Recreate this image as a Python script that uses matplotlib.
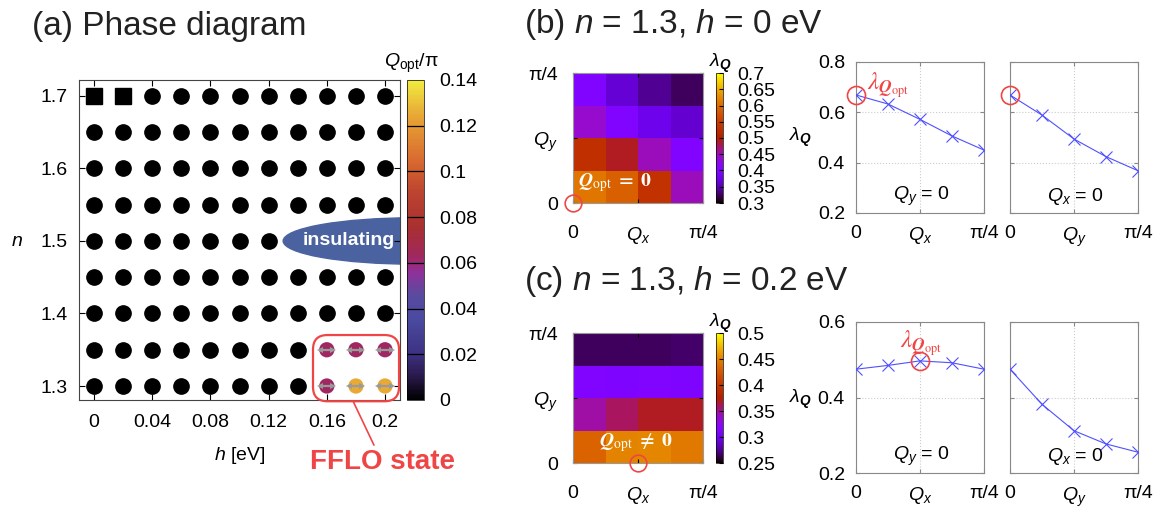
import matplotlib as mpl
mpl.use('Agg')

import matplotlib.pyplot as plt
import numpy as np
from matplotlib.colors import LinearSegmentedColormap, Normalize
from matplotlib.cm import ScalarMappable
from matplotlib.patches import Ellipse, FancyBboxPatch
import matplotlib.ticker as mticker

plt.rcParams['font.family'] = ['Liberation Sans', 'DejaVu Sans']
plt.rcParams['mathtext.fontset'] = 'custom'
plt.rcParams['mathtext.rm'] = 'Liberation Sans'
plt.rcParams['mathtext.it'] = 'Liberation Sans:italic'
plt.rcParams['mathtext.bf'] = 'Liberation Sans:bold'
plt.rcParams['mathtext.bfit'] = 'Liberation Sans:italic:bold'

# ---- (a) phase diagram data
h_grid = [0.0, 0.02, 0.04, 0.06, 0.08, 0.10, 0.12, 0.14, 0.16, 0.18, 0.20]
n_grid = [1.30, 1.35, 1.40, 1.45, 1.50, 1.55, 1.60, 1.65, 1.70]
square_h = [0.0, 0.02]
square_n = [1.70, 1.70]
insul_h = [0.14, 0.16, 0.18, 0.20]
insul_n = [1.50, 1.50, 1.50, 1.50]
fflo_h = [0.16, 0.18, 0.20, 0.16, 0.18, 0.20]
fflo_n = [1.35, 1.35, 1.35, 1.30, 1.30, 1.30]
fflo_q = [0.0625, 0.0625, 0.0625, 0.0625, 0.125, 0.125]   # Q_opt / pi

# ---- (b), (c) lambda_Q maps (rows: Qy from 0 up, cols: Qx from 0)
q_edges = [0, 0.0625, 0.125, 0.1875, 0.25]
lam_b = [[0.608, 0.588, 0.532, 0.448],
         [0.528, 0.492, 0.448, 0.400],
         [0.440, 0.400, 0.376, 0.362],
         [0.400, 0.364, 0.340, 0.324]]
lam_c = [[0.4325, 0.450, 0.452, 0.445],
         [0.3475, 0.360, 0.370, 0.370],
         [0.3125, 0.312, 0.313, 0.312],
         [0.265, 0.265, 0.265, 0.267]]

# ---- line cuts
q_line = [0, 0.0625, 0.125, 0.1875, 0.25]   # Q / pi
b_qy0 = [0.669, 0.633, 0.572, 0.506, 0.450]
b_qx0 = [0.669, 0.589, 0.494, 0.424, 0.368]
c_qy0 = [0.475, 0.485, 0.497, 0.492, 0.475]
c_qx0 = [0.475, 0.382, 0.312, 0.277, 0.255]

red = '#f04545'
grey = '#888888'
W, H = 1158, 507

def box(x0, y0, x1, y1):
    return [x0 / W, 1 - y1 / H, (x1 - x0) / W, (y1 - y0) / H]

qcmap = LinearSegmentedColormap.from_list('qopt', [
    (0.0, '#000000'), (0.07, '#281848'), (0.14, '#3c3080'), (0.25, '#4a4aa0'),
    (0.33, '#5a4a9e'), (0.40, '#90309a'), (0.45, '#a0285e'), (0.54, '#a83030'),
    (0.65, '#bc4430'), (0.75, '#d86a30'), (0.893, '#e8a835'), (1.0, '#f0ec40')])

fig = plt.figure(figsize=(W / 100, H / 100), dpi=100)

# ================= (a)
ax = fig.add_axes(box(79, 80, 400, 400))
ax.set_xlim(-0.0103, 0.2103)
ax.set_ylim(1.2807, 1.722)

special = set(zip(square_h, square_n)) | set(zip(insul_h, insul_n)) | set(zip(fflo_h, fflo_n))
circ_h, circ_n = [], []
for n in n_grid:
    for h in h_grid:
        if (h, n) not in special:
            circ_h.append(h)
            circ_n.append(n)

ax.add_patch(Ellipse((0.22, 1.5), width=0.18, height=0.064, color='#4a63a0', zorder=1))
ax.text(0.175, 1.5, 'insulating', color='white', fontsize=14, fontweight='bold',
        ha='center', va='center', zorder=2)

ax.plot(circ_h, circ_n, 'o', color='black', ms=11, clip_on=False, zorder=3)
ax.plot(square_h, square_n, 's', color='black', ms=11, clip_on=False, zorder=3)
ax.scatter(fflo_h, fflo_n, c=fflo_q, cmap=qcmap, vmin=0, vmax=0.14, s=121,
           edgecolors='none', zorder=3)
# double-headed arrows showing the Q direction
for h, n in zip(fflo_h, fflo_n):
    ax.plot([h - 0.0045, h + 0.0045], [n, n], color='#9a9a9a', lw=1.6, zorder=4,
            solid_capstyle='butt')
    ax.plot([h - 0.0045], [n], marker='<', color='#9a9a9a', ms=4.5, mew=0, zorder=4)
    ax.plot([h + 0.0045], [n], marker='>', color='#9a9a9a', ms=4.5, mew=0, zorder=4)

ax.add_patch(FancyBboxPatch((0.729, -0.004), 0.268, 0.207,
                            boxstyle='round,pad=0,rounding_size=0.045',
                            transform=ax.transAxes, fill=False, ec=red, lw=1.6,
                            clip_on=False, zorder=5))
ax.annotate('FFLO state', xy=(0.854, -0.004), xycoords='axes fraction',
            xytext=(0.944, -0.194), textcoords='axes fraction',
            ha='center', va='center', color=red, fontsize=20, fontweight='bold',
            arrowprops=dict(arrowstyle='-', color=red, lw=1.2, shrinkA=1, shrinkB=0))

ax.set_xticks([0, 0.04, 0.08, 0.12, 0.16, 0.2])
ax.set_xticklabels(['0', '0.04', '0.08', '0.12', '0.16', '0.2'])
ax.set_yticks([1.3, 1.4, 1.5, 1.6, 1.7])
ax.set_yticklabels(['1.3', '1.4', '1.5', '1.6', '1.7'])
ax.tick_params(direction='in', top=True, right=True, length=4, labelsize=14)
ax.tick_params(axis='x', pad=10)
ax.tick_params(axis='y', pad=8)
for s in ax.spines.values():
    s.set_color('#444444')
ax.set_xlabel(r'$h$ [eV]', fontsize=14)
ax.xaxis.set_label_coords(0.5, -0.14)
ax.set_ylabel(r'$n$', fontsize=14, rotation=0, ha='center', va='center')
ax.yaxis.set_label_coords(-0.193, 0.494)

cax = fig.add_axes(box(407, 80, 424, 400))
cb = fig.colorbar(ScalarMappable(Normalize(0, 0.14), qcmap), cax=cax,
                  ticks=[0, 0.02, 0.04, 0.06, 0.08, 0.1, 0.12, 0.14])
cb.ax.set_yticklabels(['0', '0.02', '0.04', '0.06', '0.08', '0.1', '0.12', '0.14'])
cb.ax.tick_params(length=0, labelsize=14, pad=11)
for t in [0.02, 0.04, 0.06, 0.08, 0.1, 0.12]:
    cb.ax.axhline(t, color='black', lw=0.9)
cb.outline.set_linewidth(0.5)
fig.text(411 / W, 1 - 63 / H, r'$Q_{\rm opt}$/π', fontsize=14, ha='center', va='center')

fig.text(32 / W, 1 - 35 / H, '(a) Phase diagram', fontsize=24, va='baseline', color='#222222')


# ================= (b), (c)
def heatmap(y0, lam, vmin, vmax, cticks, qline, label):
    axh = fig.add_axes(box(573, y0, 703, y0 + 130))
    mesh = axh.pcolormesh(q_edges, q_edges, lam, cmap='gnuplot', vmin=vmin, vmax=vmax)
    axh.set_xlim(0, 0.25)
    axh.set_ylim(0, 0.25)
    axh.set_xticks([0, 0.125, 0.25])
    axh.set_xticklabels(['0', r'$Q_x$', 'π/4'])
    axh.set_yticks([0, 0.125, 0.25])
    axh.set_yticklabels(['0', r'$Q_y$', 'π/4'])
    axh.tick_params(direction='in', top=True, right=True, length=3, labelsize=14)
    axh.tick_params(axis='x', pad=16)
    axh.tick_params(axis='y', pad=11)
    for s in axh.spines.values():
        s.set_color('#999999')
    qopt = q_line[int(np.argmax(qline))]
    axh.plot(qopt, 0, 'o', mfc='none', mec=red, ms=12, mew=1.2, clip_on=False, zorder=5)
    axh.text(0.32 if qopt == 0 else 0.485, 0.154, label, transform=axh.transAxes,
             color='white', fontsize=14, math_fontfamily='stix', ha='center', va='center')

    cax = fig.add_axes(box(716, y0, 723, y0 + 130))
    cb = fig.colorbar(mesh, cax=cax, ticks=cticks)
    cb.ax.yaxis.set_major_formatter(mticker.FormatStrFormatter('%g'))
    cb.ax.tick_params(direction='in', length=3, labelsize=14, pad=10)
    cb.outline.set_linewidth(0.5)
    fig.text(720 / W, 1 - (y0 - 10) / H, r'$\lambda_{\mathbfit{Q}}$', fontsize=14,
             ha='center', va='center')


def cut(x0, y0, vals, ylim, yticks, xlab, inner, show_y, lab_xy=None):
    axl = fig.add_axes(box(x0, y0, x0 + 128, y0 + 151))
    axl.plot(q_line, vals, color='#5050ff', lw=0.8, marker='x', ms=8, mew=0.8, zorder=3)
    axl.set_xlim(0, 0.25)
    axl.set_ylim(*ylim)
    axl.set_xticks([0, 0.125, 0.25])
    axl.set_xticklabels(['0', xlab, 'π/4'])
    axl.set_yticks(yticks)
    axl.yaxis.set_major_formatter(mticker.FormatStrFormatter('%g'))
    if not show_y:
        axl.set_yticklabels([])
    axl.grid(True, color='#cccccc', ls=':', lw=0.8)
    axl.tick_params(direction='in', top=True, right=True, length=3, color=grey,
                    labelsize=14)
    axl.tick_params(axis='x', pad=9)
    axl.tick_params(axis='y', pad=8)
    for s in axl.spines.values():
        s.set_color(grey)
    axl.text(0.51, 0.11, inner, transform=axl.transAxes, ha='center', va='center',
             fontsize=14)
    if lab_xy is not None:
        i = int(np.argmax(vals))
        axl.plot(q_line[i], vals[i], 'o', mfc='none', mec=red, ms=13, mew=1.2,
                 clip_on=False, zorder=4)
        axl.text(lab_xy[0], lab_xy[1], r'$\lambda_{\mathbfit{Q}_{\rm opt}}$', color=red,
                 fontsize=18, math_fontfamily='stix', ha='center', va='center')
    return axl


# (b)
fig.text(524 / W, 1 - 33 / H, r'(b) $n$ = 1.3, $h$ = 0 eV', fontsize=24, va='baseline',
         color='#222222')
heatmap(73, lam_b, 0.3, 0.7, [0.3, 0.35, 0.4, 0.45, 0.5, 0.55, 0.6, 0.65, 0.7], b_qy0,
        r'$\mathbfit{Q}_{\rm opt}\ \mathbf{=\ 0}$')
cut(856, 62, b_qy0, (0.2, 0.8), [0.2, 0.4, 0.6, 0.8], r'$Q_x$', r'$Q_y$ = 0', True,
    lab_xy=(0.0625, 0.709))
axr = cut(1010, 62, b_qx0, (0.2, 0.8), [0.2, 0.4, 0.6, 0.8], r'$Q_y$', r'$Q_x$ = 0', False)
axr.plot(q_line[0], b_qx0[0], 'o', mfc='none', mec=red, ms=13, mew=1.2, clip_on=False, zorder=4)
fig.text(800 / W, 1 - 137 / H, r'$\lambda_{\mathbfit{Q}}$', fontsize=14, ha='center', va='center')

# (c)
fig.text(524 / W, 1 - 290 / H, r'(c) $n$ = 1.3, $h$ = 0.2 eV', fontsize=24, va='baseline',
         color='#222222')
heatmap(333, lam_c, 0.25, 0.5, [0.25, 0.3, 0.35, 0.4, 0.45, 0.5], c_qy0,
        r'$\mathbfit{Q}_{\rm opt}\ \mathbf{\neq\ 0}$')
cut(856, 322, c_qy0, (0.2, 0.6), [0.2, 0.4, 0.6], r'$Q_x$', r'$Q_y$ = 0', True,
    lab_xy=(0.127, 0.544))
cut(1010, 322, c_qx0, (0.2, 0.6), [0.2, 0.4, 0.6], r'$Q_y$', r'$Q_x$ = 0', False)
fig.text(800 / W, 1 - 399 / H, r'$\lambda_{\mathbfit{Q}}$', fontsize=14, ha='center', va='center')

fig.savefig('out.png', dpi=100)
